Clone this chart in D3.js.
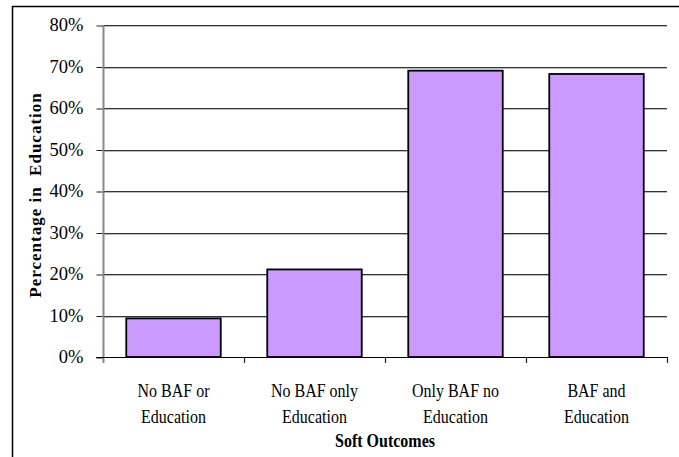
<!DOCTYPE html>
<html>
<head>
<meta charset="utf-8">
<script src="https://cdn.jsdelivr.net/npm/d3@7"></script>
<style>
  html, body { margin: 0; padding: 0; background: #fff; }
  svg { display: block; }
  text { font-family: "Liberation Serif", "Times New Roman", serif; fill: #000; }
</style>
</head>
<body>
<svg id="chart" width="679" height="457"></svg>
<script>
// Share of young people in education, by soft outcome group
const categories = [
  ["No BAF or", "Education"],
  ["No BAF only", "Education"],
  ["Only BAF no", "Education"],
  ["BAF and", "Education"]
];
const values = [0.093, 0.211, 0.690, 0.682];
const yTicks = [0, 0.1, 0.2, 0.3, 0.4, 0.5, 0.6, 0.7, 0.8];
const xTitle = "Soft Outcomes";
const yTitle = "Percentage in  Education";

const svg = d3.select("#chart");
const margin = { left: 103, right: 12, top: 25, bottom: 100 };
const W = 679, H = 457;
const x0 = margin.left, x1 = W - margin.right;
const y0 = H - margin.bottom, y1 = margin.top;
const tallText = 1.12; // slightly condensed lettering for the category text

const x = d3.scaleBand()
  .domain(d3.range(categories.length))
  .range([x0, x1])
  .paddingInner(0.33)
  .paddingOuter(0.165);
const band = d3.scaleBand().domain(d3.range(categories.length)).range([x0, x1]);
const y = d3.scaleLinear().domain([0, 0.8]).range([y0, y1]);

// Frame around the chart area (top and left edges visible)
svg.append("path")
  .attr("d", `M12.5,${H} L12.5,6.5 L${W},6.5`)
  .attr("fill", "none").attr("stroke", "#000").attr("stroke-width", 1.5);

// Horizontal gridlines with a soft shadow line underneath
const grid = svg.append("g");
grid.selectAll("line.shadow")
  .data(yTicks.filter(d => d > 0))
  .join("line")
  .attr("x1", x0).attr("x2", x1)
  .attr("y1", d => Math.round(y(d)) + 1.5).attr("y2", d => Math.round(y(d)) + 1.5)
  .attr("stroke", "#bbb").attr("stroke-width", 1);
grid.selectAll("line.main")
  .data(yTicks.filter(d => d > 0))
  .join("line")
  .attr("x1", x0).attr("x2", x1)
  .attr("y1", d => Math.round(y(d)) + 0.5).attr("y2", d => Math.round(y(d)) + 0.5)
  .attr("stroke", "#333").attr("stroke-width", 1);

// Y axis
const yAxis = d3.axisLeft(y)
  .tickValues(yTicks)
  .tickFormat(d3.format(".0%"))
  .tickSizeInner(7)
  .tickSizeOuter(0)
  .tickPadding(13);
const gy = svg.append("g").attr("transform", `translate(${x0 + 0.5},0)`).call(yAxis);
gy.select(".domain").remove();
gy.selectAll(".tick line").attr("stroke", "#222").attr("transform", "translate(0,0.5)");
gy.selectAll(".tick text")
  .style("font-family", '"Liberation Serif", "Times New Roman", serif')
  .style("font-size", "18.5px").attr("fill", "#000");
svg.append("line")
  .attr("x1", x0 + 0.5).attr("x2", x0 + 0.5)
  .attr("y1", y1).attr("y2", y0 + 6)
  .attr("stroke", "#888").attr("stroke-width", 2);

// Bars
svg.append("g").selectAll("rect")
  .data(values)
  .join("rect")
  .attr("x", (d, i) => x(i))
  .attr("y", d => y(d))
  .attr("width", x.bandwidth())
  .attr("height", d => y(0) - y(d))
  .attr("fill", "#CC99FF")
  .attr("stroke", "#000")
  .attr("stroke-width", 1.8);

// X axis with tick marks at category boundaries
const bounds = d3.range(categories.length + 1).map(i => i < categories.length ? band(i) : x1);
svg.append("line")
  .attr("x1", x0 - 7).attr("x2", x1)
  .attr("y1", y0 + 0.5).attr("y2", y0 + 0.5)
  .attr("stroke", "#000").attr("stroke-width", 1.2);
svg.append("g").selectAll("line")
  .data(bounds.slice(1))
  .join("line")
  .attr("x1", d => d + 0.5).attr("x2", d => d + 0.5)
  .attr("y1", y0).attr("y2", y0 + 6)
  .attr("stroke", "#222").attr("stroke-width", 1.2);

// Category labels (two lines each)
const lines = categories.flatMap((d, i) => d.map((s, j) => ({ s, i, j })));
svg.append("g").selectAll("text")
  .data(lines)
  .join("text")
  .attr("text-anchor", "middle")
  .attr("transform", d => `translate(${band(d.i) + band.bandwidth() / 2},${y0 + 40 + d.j * 26}) scale(1,${tallText})`)
  .style("font-size", "16px")
  .text(d => d.s);

// Axis titles
svg.append("text")
  .attr("text-anchor", "middle")
  .attr("transform", `translate(${(x0 + x1) / 2},${y0 + 90}) scale(1,${tallText})`)
  .style("font-size", "16px").style("font-weight", "bold")
  .text(xTitle);
svg.append("text")
  .attr("transform", `translate(41,${(y0 + y1) / 2 + 4}) rotate(-90)`)
  .attr("text-anchor", "middle")
  .style("font-size", "17px").style("font-weight", "bold")
  .style("letter-spacing", "1px")
  .style("white-space", "pre")
  .text(yTitle);
</script>
</body>
</html>
